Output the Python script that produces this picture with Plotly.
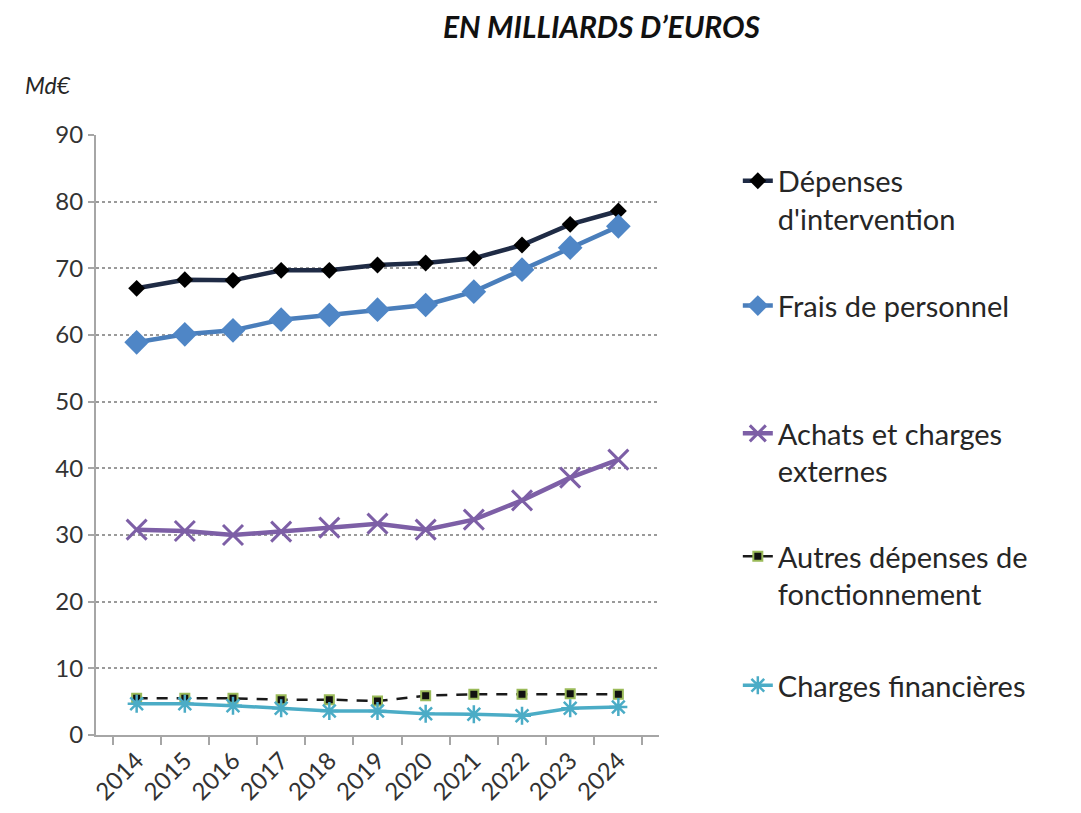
import plotly.graph_objects as go

# Données (Md€)
annees = ['2014', '2015', '2016', '2017', '2018', '2019', '2020', '2021', '2022', '2023', '2024']
depenses_intervention = [67.0, 68.3, 68.2, 69.7, 69.7, 70.5, 70.8, 71.5, 73.5, 76.6, 78.6]
frais_personnel = [58.9, 60.1, 60.7, 62.3, 63.0, 63.8, 64.5, 66.5, 69.8, 73.1, 76.3]
achats_charges_externes = [30.8, 30.6, 30.0, 30.5, 31.1, 31.7, 30.8, 32.3, 35.2, 38.6, 41.3]
autres_depenses = [5.5, 5.5, 5.5, 5.3, 5.3, 5.1, 5.9, 6.1, 6.1, 6.2, 6.1]
charges_financieres = [4.7, 4.7, 4.4, 4.0, 3.6, 3.6, 3.2, 3.1, 2.9, 4.0, 4.2]

police = 'Lato'

fig = go.Figure()

# Dépenses d'intervention : ligne bleu nuit, losanges noirs
fig.add_trace(go.Scatter(
    x=annees, y=depenses_intervention, name="Dépenses<br>d'intervention",
    mode='lines+markers', legend='legend',
    line=dict(color='#1F2B45', width=4.5),
    marker=dict(symbol='diamond', size=13, color='#000000')
))

# Frais de personnel : ligne bleue, losanges bleus
fig.add_trace(go.Scatter(
    x=annees, y=frais_personnel, name='Frais de personnel',
    mode='lines+markers', legend='legend2',
    line=dict(color='#4A7EBB', width=4.5),
    marker=dict(symbol='diamond', size=19, color='#4F86C6')
))

# Achats et charges externes : ligne violette, croix
fig.add_trace(go.Scatter(
    x=annees, y=achats_charges_externes, name='Achats et charges<br>externes',
    mode='lines+markers', legend='legend3',
    line=dict(color='#7D5FA6', width=4.5),
    marker=dict(symbol='x-thin', size=20, color='#7D5FA6',
                line=dict(color='#7D5FA6', width=3))
))

# Autres dépenses de fonctionnement : tirets noirs, petits carrés
fig.add_trace(go.Scatter(
    x=annees, y=autres_depenses, name='Autres dépenses de<br>fonctionnement',
    mode='lines+markers', legend='legend4',
    line=dict(color='#1a1a1a', width=2.5, dash='11px,9px'),
    marker=dict(symbol='square', size=9, color='#111111',
                line=dict(color='#9BBB59', width=2))
))

# Charges financières : ligne cyan, astérisques
fig.add_trace(go.Scatter(
    x=annees, y=charges_financieres, name='Charges financières',
    mode='lines+markers', legend='legend5',
    line=dict(color='#4BACC6', width=3.5),
    marker=dict(symbol='asterisk', size=15, color='#4BACC6',
                line=dict(color='#4BACC6', width=2.5))
))

# Une légende par série, placée au niveau de sa courbe
legende_commune = dict(
    x=1.14, xanchor='left', yanchor='top', valign='top',
    bgcolor='rgba(0,0,0,0)', borderwidth=0,
    font=dict(family=police, size=29, color='#262626')
)
positions_legende = {'legend': 0.966, 'legend2': 0.758, 'legend3': 0.545,
                     'legend4': 0.340, 'legend5': 0.125}
for cle, y_leg in positions_legende.items():
    fig.update_layout({cle: dict(legende_commune, y=y_leg)})

fig.update_layout(
    width=1081, height=813, showlegend=True,
    margin=dict(l=88, r=430, t=127, b=86),
    paper_bgcolor='white', plot_bgcolor='white',
    title=dict(
        text="<b><i>EN MILLIARDS D’EUROS</i></b>",
        x=0.549, xanchor='center', y=0.976, yanchor='middle',
        font=dict(family=police, size=30, color='#111111')
    ),
    xaxis=dict(
        type='category', tickangle=-45, tickson='boundaries',
        showline=True, linecolor='#A6A6A6', linewidth=2,
        ticks='outside', ticklen=8, tickcolor='#A6A6A6', tickwidth=2,
        showgrid=False,
        tickfont=dict(family=police, size=24, color='#333333')
    ),
    yaxis=dict(
        range=[0, 90], dtick=10,
        showline=True, linecolor='#A6A6A6', linewidth=2,
        ticks='outside', ticklen=6, tickcolor='#A6A6A6', tickwidth=2,
        showgrid=True, gridcolor='#9A9A9A', gridwidth=1.5, griddash='dot',
        zeroline=False,
        tickfont=dict(family=police, size=24, color='#333333')
    ),
    annotations=[dict(
        text='<i>Md€</i>', xref='paper', yref='paper',
        x=-0.13, y=1.083, xanchor='left', yanchor='middle',
        showarrow=False, font=dict(family=police, size=23, color='#262626')
    )]
)

fig.write_html('out.html')
